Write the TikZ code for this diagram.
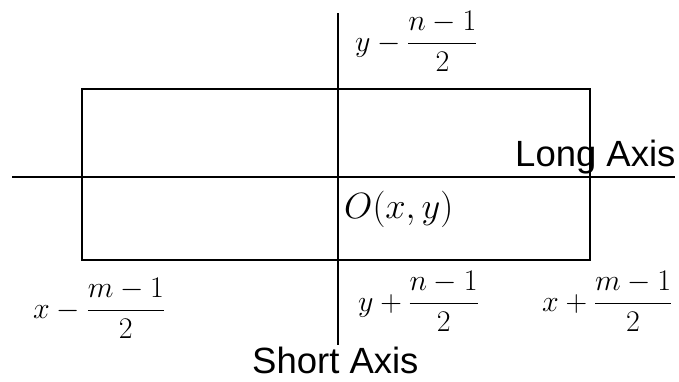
\RequirePackage{fix-cm}
\documentclass[tikz,border=0pt]{standalone}
\usepackage{fontspec}
\newfontfamily\arialf{Liberation Sans}
\begin{document}
\begin{tikzpicture}[x=1pt,y=-1pt,
  axis/.style={line width=2pt},
  lbl/.style={inner sep=0pt, anchor=base west, font=\arialf\fontsize{36.5}{40}\selectfont},
  mlbl/.style={inner sep=0pt, anchor=base west, font=\fontsize{30}{36}\selectfont}]
\useasboundingbox (0,0) rectangle (679,381);
\coordinate (hl) at (12,177);
\coordinate (hr) at (675,177);
\coordinate (vt) at (338,13);
\coordinate (vb) at (338,345);
\node[axis, draw, minimum width=508pt, minimum height=171pt, inner sep=0pt, outer sep=0pt] (box) at (336,174.5) {};
\draw[axis] (hl) -- (hr);
\draw[axis] (vt) -- (vb);
\node[lbl] (long) at (515,166) {Long Axis};
\node[lbl] (short) at (252,373) {Short Axis};
\node[mlbl, font=\fontsize{36.5}{44}\selectfont] (o) at (344,218) {$O(x,y)$};
\node[mlbl] (ytop) at (355,51) {$\displaystyle y-\frac{n-1}{2}$};
\node[mlbl] (xl) at (33,318) {$\displaystyle x-\frac{m-1}{2}$};
\node[mlbl] (yb) at (358,311) {$\displaystyle y+\frac{n-1}{2}$};
\node[mlbl] (xr) at (542,311) {$\displaystyle x+\frac{m-1}{2}$};
\end{tikzpicture}
\end{document}
